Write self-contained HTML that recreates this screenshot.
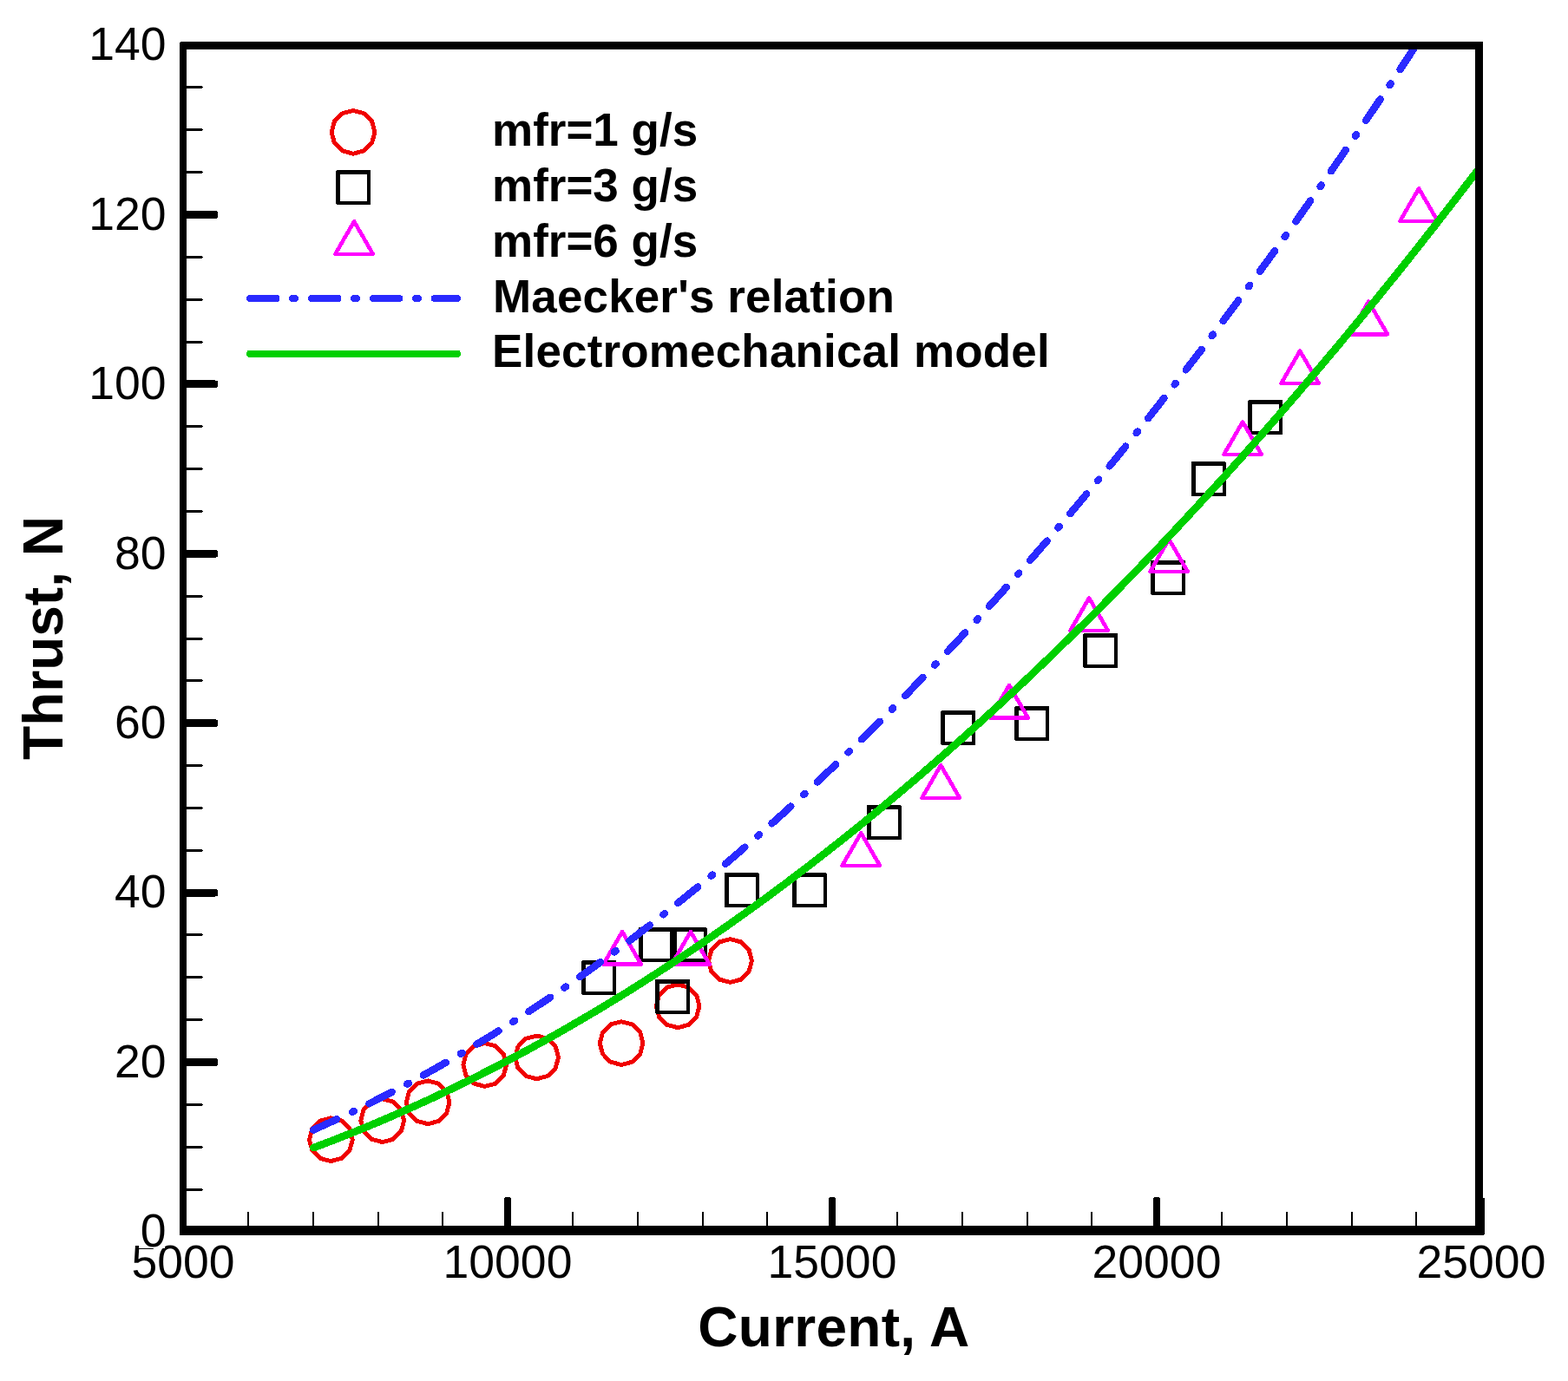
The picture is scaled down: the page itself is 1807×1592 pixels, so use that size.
<!DOCTYPE html>
<html lang="en"><head><meta charset="utf-8"><title>Thrust vs Current</title>
<style>html,body{margin:0;padding:0;background:#fff;}body{width:1807px;height:1592px;overflow:hidden;}svg{display:block;}text{font-family:"Liberation Sans",Arial,Helvetica,sans-serif;fill:#000;}.b{font-weight:bold;}</style>
</head><body>
<svg width="1807" height="1592" viewBox="0 0 1807 1592" shape-rendering="crispEdges">
<rect x="0" y="0" width="1807" height="1592" fill="#fff"/>
<g fill="none" stroke="#f00000" stroke-width="4.9" stroke-linejoin="round">
<polygon points="407.0,127.4 419.4,130.7 428.6,139.9 431.9,152.3 428.6,164.8 419.4,173.9 407.0,177.2 394.6,173.9 385.4,164.8 382.1,152.3 385.4,139.9 394.6,130.7"/>
<polygon points="381.4,1288.8 393.8,1292.1 403.0,1301.2 406.3,1313.7 403.0,1326.2 393.8,1335.3 381.4,1338.6 368.9,1335.3 359.8,1326.2 356.5,1313.7 359.8,1301.2 368.9,1292.1"/>
<polygon points="440.7,1266.8 453.1,1270.1 462.3,1279.2 465.6,1291.7 462.3,1304.2 453.1,1313.3 440.7,1316.6 428.2,1313.3 419.1,1304.2 415.8,1291.7 419.1,1279.2 428.2,1270.1"/>
<polygon points="493.1,1245.9 505.6,1249.2 514.7,1258.3 518.0,1270.8 514.7,1283.2 505.6,1292.4 493.1,1295.7 480.7,1292.4 471.5,1283.2 468.2,1270.8 471.5,1258.3 480.7,1249.2"/>
<polygon points="558.7,1202.6 571.2,1205.9 580.3,1215.0 583.6,1227.5 580.3,1240.0 571.2,1249.1 558.7,1252.4 546.2,1249.1 537.1,1240.0 533.8,1227.5 537.1,1215.0 546.2,1205.9"/>
<polygon points="618.6,1194.0 631.1,1197.3 640.2,1206.5 643.5,1218.9 640.2,1231.4 631.1,1240.5 618.6,1243.8 606.1,1240.5 597.0,1231.4 593.7,1218.9 597.0,1206.5 606.1,1197.3"/>
<polygon points="716.1,1177.7 728.6,1181.0 737.7,1190.1 741.0,1202.6 737.7,1215.0 728.6,1224.2 716.1,1227.5 703.6,1224.2 694.5,1215.0 691.2,1202.6 694.5,1190.1 703.6,1181.0"/>
<polygon points="781.1,1134.9 793.6,1138.2 802.7,1147.3 806.0,1159.8 802.7,1172.2 793.6,1181.4 781.1,1184.7 768.6,1181.4 759.5,1172.2 756.2,1159.8 759.5,1147.3 768.6,1138.2"/>
<polygon points="841.5,1082.6 854.0,1085.9 863.1,1095.0 866.4,1107.5 863.1,1120.0 854.0,1129.1 841.5,1132.4 829.0,1129.1 819.9,1120.0 816.6,1107.5 819.9,1095.0 829.0,1085.9"/>
</g>
<g fill="#000" fill-rule="evenodd" stroke="none">
<path d="M388.0,196.0 H426.0 L427.0,197.0 V236.0 H388.0 L387.0,235.0 V197.0 Z M392.0,201.0 H423.0 V232.0 H392.0 Z"/>
<path d="M671.0,1107.0 H709.0 L710.0,1108.0 V1147.0 H671.0 L670.0,1146.0 V1108.0 Z M675.0,1112.0 H706.0 V1143.0 H675.0 Z"/>
<path d="M736.9,1069.0 H774.9 L775.9,1070.0 V1109.0 H736.9 L735.9,1108.0 V1070.0 Z M740.9,1074.0 H771.9 V1105.0 H740.9 Z"/>
<path d="M775.8,1069.0 H813.8 L814.8,1070.0 V1109.0 H775.8 L774.8,1108.0 V1070.0 Z M779.8,1074.0 H810.8 V1105.0 H779.8 Z"/>
<path d="M756.1,1128.6 H794.1 L795.1,1129.6 V1168.6 H756.1 L755.1,1167.6 V1129.6 Z M760.1,1133.6 H791.1 V1164.6 H760.1 Z"/>
<path d="M835.6,1006.1 H873.6 L874.6,1007.1 V1046.1 H835.6 L834.6,1045.1 V1007.1 Z M839.6,1011.1 H870.6 V1042.1 H839.6 Z"/>
<path d="M914.0,1006.1 H952.0 L953.0,1007.1 V1046.1 H914.0 L913.0,1045.1 V1007.1 Z M918.0,1011.1 H949.0 V1042.1 H918.0 Z"/>
<path d="M999.5,928.0 H1037.5 L1038.5,929.0 V968.0 H999.5 L998.5,967.0 V929.0 Z M1003.5,933.0 H1034.5 V964.0 H1003.5 Z"/>
<path d="M1085.0,819.0 H1123.0 L1124.0,820.0 V859.0 H1085.0 L1084.0,858.0 V820.0 Z M1089.0,824.0 H1120.0 V855.0 H1089.0 Z"/>
<path d="M1170.0,814.0 H1208.0 L1209.0,815.0 V854.0 H1170.0 L1169.0,853.0 V815.0 Z M1174.0,819.0 H1205.0 V850.0 H1174.0 Z"/>
<path d="M1249.0,730.0 H1287.0 L1288.0,731.0 V770.0 H1249.0 L1248.0,769.0 V731.0 Z M1253.0,735.0 H1284.0 V766.0 H1253.0 Z"/>
<path d="M1327.4,645.5 H1365.4 L1366.4,646.5 V685.5 H1327.4 L1326.4,684.5 V646.5 Z M1331.4,650.5 H1362.4 V681.5 H1331.4 Z"/>
<path d="M1373.5,532.0 H1411.5 L1412.5,533.0 V572.0 H1373.5 L1372.5,571.0 V533.0 Z M1377.5,537.0 H1408.5 V568.0 H1377.5 Z"/>
<path d="M1439.1,461.0 H1477.1 L1478.1,462.0 V501.0 H1439.1 L1438.1,500.0 V462.0 Z M1443.1,466.0 H1474.1 V497.0 H1443.1 Z"/>
</g>
<g fill="none" stroke="#ff00ff" stroke-width="4.6" stroke-linejoin="round">
<polygon points="408.1,255.3 429.8,292.9 386.4,292.9"/>
<polygon points="717.1,1074.0 738.8,1111.6 695.4,1111.6"/>
<polygon points="795.9,1074.0 817.6,1111.6 774.2,1111.6"/>
<polygon points="992.3,960.3 1014.0,997.9 970.6,997.9"/>
<polygon points="1084.2,882.2 1105.9,919.8 1062.5,919.8"/>
<polygon points="1163.0,789.9 1184.7,827.5 1141.3,827.5"/>
<polygon points="1255.1,689.4 1276.8,727.0 1233.4,727.0"/>
<polygon points="1347.1,621.5 1368.8,659.1 1325.4,659.1"/>
<polygon points="1432.1,486.4 1453.8,524.0 1410.4,524.0"/>
<polygon points="1498.1,404.5 1519.8,442.1 1476.4,442.1"/>
<polygon points="1577.2,347.6 1598.9,385.2 1555.5,385.2"/>
<polygon points="1635.1,217.3 1656.8,254.9 1613.4,254.9"/>
</g>
<clipPath id="plot"><rect x="211" y="52.5" width="1493.5" height="1365"/></clipPath>
<g clip-path="url(#plot)" fill="none" stroke-linecap="round" stroke-linejoin="round">
<path d="M361.2,1302.6 L371.9,1297.7 L382.7,1292.8 L393.4,1287.8 L404.2,1282.7 L414.9,1277.5 L425.7,1272.2 L436.4,1266.7 L447.2,1261.2 L457.9,1255.6 L468.7,1249.9 L479.4,1244.1 L490.2,1238.2 L500.9,1232.2 L511.6,1226.1 L522.4,1219.9 L533.1,1213.6 L543.9,1207.2 L554.6,1200.7 L565.4,1194.2 L576.1,1187.5 L586.9,1180.7 L597.6,1173.8 L608.4,1166.8 L619.1,1159.7 L629.9,1152.6 L640.6,1145.3 L651.3,1137.9 L662.1,1130.4 L672.8,1122.9 L683.6,1115.2 L694.3,1107.4 L705.1,1099.6 L715.8,1091.6 L726.6,1083.6 L737.3,1075.4 L748.1,1067.1 L758.8,1058.8 L769.6,1050.3 L780.3,1041.8 L791.0,1033.1 L801.8,1024.4 L812.5,1015.5 L823.3,1006.6 L834.0,997.6 L844.8,988.4 L855.5,979.2 L866.3,969.9 L877.0,960.4 L887.8,950.9 L898.5,941.3 L909.3,931.5 L920.0,921.7 L930.7,911.8 L941.5,901.8 L952.2,891.6 L963.0,881.4 L973.7,871.1 L984.5,860.7 L995.2,850.2 L1006.0,839.6 L1016.7,828.9 L1027.5,818.1 L1038.2,807.1 L1049.0,796.1 L1059.7,785.0 L1070.5,773.8 L1081.2,762.5 L1091.9,751.2 L1102.7,739.7 L1113.4,728.1 L1124.2,716.4 L1134.9,704.6 L1145.7,692.7 L1156.4,680.7 L1167.2,668.6 L1177.9,656.5 L1188.7,644.2 L1199.4,631.8 L1210.2,619.3 L1220.9,606.7 L1231.6,594.1 L1242.4,581.3 L1253.1,568.4 L1263.9,555.5 L1274.6,542.4 L1285.4,529.2 L1296.1,516.0 L1306.9,502.6 L1317.6,489.2 L1328.4,475.6 L1339.1,462.0 L1349.9,448.2 L1360.6,434.4 L1371.3,420.4 L1382.1,406.4 L1392.8,392.2 L1403.6,378.0 L1414.3,363.6 L1425.1,349.2 L1435.8,334.7 L1446.6,320.0 L1457.3,305.3 L1468.1,290.5 L1478.8,275.5 L1489.6,260.5 L1500.3,245.4 L1511.0,230.2 L1521.8,214.8 L1532.5,199.4 L1543.3,183.9 L1554.0,168.3 L1564.8,152.6 L1575.5,136.8 L1586.3,120.9 L1597.0,104.8 L1607.8,88.7 L1618.5,72.5 L1629.3,56.2 L1640.0,39.8" stroke="#2a2aff" stroke-width="8.4" stroke-dasharray="29.5 19.8 2 19.6"/>
<path d="M361.4,1323.1 L372.7,1318.8 L384.1,1314.5 L395.4,1310.0 L406.8,1305.5 L418.1,1300.9 L429.5,1296.2 L440.8,1291.4 L452.2,1286.5 L463.5,1281.5 L474.9,1276.4 L486.2,1271.3 L497.6,1266.1 L508.9,1260.7 L520.3,1255.3 L531.6,1249.8 L543.0,1244.2 L554.3,1238.5 L565.7,1232.7 L577.0,1226.9 L588.4,1220.9 L599.7,1214.9 L611.1,1208.7 L622.4,1202.5 L633.8,1196.2 L645.1,1189.8 L656.5,1183.3 L667.8,1176.7 L679.2,1170.0 L690.5,1163.3 L701.9,1156.4 L713.2,1149.5 L724.6,1142.5 L735.9,1135.3 L747.3,1128.1 L758.6,1120.8 L770.0,1113.4 L781.3,1105.9 L792.7,1098.4 L804.0,1090.7 L815.4,1083.0 L826.7,1075.1 L838.1,1067.2 L849.4,1059.2 L860.8,1051.1 L872.1,1042.9 L883.5,1034.6 L894.8,1026.2 L906.2,1017.7 L917.5,1009.1 L928.9,1000.5 L940.2,991.8 L951.6,982.9 L962.9,974.0 L974.3,965.0 L985.6,955.9 L997.0,946.7 L1008.3,937.4 L1019.7,928.0 L1031.0,918.6 L1042.4,909.0 L1053.7,899.4 L1065.1,889.6 L1076.4,879.8 L1087.8,869.9 L1099.1,859.9 L1110.5,849.8 L1121.8,839.6 L1133.2,829.3 L1144.5,818.9 L1155.9,808.5 L1167.2,797.9 L1178.6,787.3 L1189.9,776.5 L1201.3,765.7 L1212.6,754.8 L1224.0,743.8 L1235.3,732.7 L1246.7,721.5 L1258.0,710.2 L1269.4,698.8 L1280.7,687.4 L1292.1,675.8 L1303.4,664.2 L1314.8,652.4 L1326.1,640.6 L1337.5,628.7 L1348.8,616.7 L1360.2,604.6 L1371.5,592.4 L1382.9,580.1 L1394.2,567.8 L1405.6,555.3 L1416.9,542.7 L1428.3,530.1 L1439.6,517.4 L1451.0,504.5 L1462.3,491.6 L1473.7,478.6 L1485.0,465.5 L1496.4,452.3 L1507.7,439.0 L1519.1,425.6 L1530.4,412.2 L1541.8,398.6 L1553.1,385.0 L1564.5,371.2 L1575.8,357.4 L1587.2,343.5 L1598.5,329.5 L1609.9,315.4 L1621.2,301.2 L1632.6,286.9 L1643.9,272.5 L1655.3,258.0 L1666.6,243.4 L1678.0,228.8 L1689.3,214.0 L1700.7,199.2 L1712.0,184.3" stroke="#00d000" stroke-width="8.7"/>
</g>
<g fill="none" stroke-width="8" stroke-linecap="round">
<path d="M288.1,344 L527,344" stroke="#2a2aff" stroke-dasharray="30.4 18.6 3 18.9"/>
<path d="M288,407.8 L527,407.8" stroke="#00d000"/>
</g>
<g fill="#000">
<rect x="207" y="48" width="8" height="1376" rx="2"/>
<rect x="207" y="48" width="1502" height="9" rx="2"/>
<rect x="1700" y="48" width="9" height="1376"/>
<rect x="207" y="1413" width="1504" height="11" rx="2"/>
<rect x="1703" y="1381" width="8" height="43" rx="2"/>
</g>
<g fill="#000" stroke="none">
<rect x="211" y="1220.0" width="40.3" height="9" rx="3.6"/>
<rect x="211" y="1024.6" width="40.3" height="9" rx="3.6"/>
<rect x="211" y="829.2" width="40.3" height="9" rx="3.6"/>
<rect x="211" y="633.8" width="40.3" height="9" rx="3.6"/>
<rect x="211" y="438.4" width="40.3" height="9" rx="3.6"/>
<rect x="211" y="243.0" width="40.3" height="9" rx="3.6"/>
<rect x="213" y="1370" width="20" height="3"/><rect x="233" y="1371" width="1" height="1"/>
<rect x="213" y="1321" width="20" height="3"/><rect x="233" y="1322" width="1" height="1"/>
<rect x="213" y="1272" width="20" height="3"/><rect x="233" y="1273" width="1" height="1"/>
<rect x="213" y="1174" width="20" height="3"/><rect x="233" y="1175" width="1" height="1"/>
<rect x="213" y="1125" width="20" height="3"/><rect x="233" y="1126" width="1" height="1"/>
<rect x="213" y="1076" width="20" height="3"/><rect x="233" y="1077" width="1" height="1"/>
<rect x="213" y="979" width="20" height="3"/><rect x="233" y="980" width="1" height="1"/>
<rect x="213" y="930" width="20" height="3"/><rect x="233" y="931" width="1" height="1"/>
<rect x="213" y="881" width="20" height="3"/><rect x="233" y="882" width="1" height="1"/>
<rect x="213" y="783" width="20" height="3"/><rect x="233" y="784" width="1" height="1"/>
<rect x="213" y="735" width="20" height="3"/><rect x="233" y="736" width="1" height="1"/>
<rect x="213" y="686" width="20" height="3"/><rect x="233" y="687" width="1" height="1"/>
<rect x="213" y="588" width="20" height="3"/><rect x="233" y="589" width="1" height="1"/>
<rect x="213" y="539" width="20" height="3"/><rect x="233" y="540" width="1" height="1"/>
<rect x="213" y="490" width="20" height="3"/><rect x="233" y="491" width="1" height="1"/>
<rect x="213" y="393" width="20" height="3"/><rect x="233" y="394" width="1" height="1"/>
<rect x="213" y="344" width="20" height="3"/><rect x="233" y="345" width="1" height="1"/>
<rect x="213" y="295" width="20" height="3"/><rect x="233" y="296" width="1" height="1"/>
<rect x="213" y="197" width="20" height="3"/><rect x="233" y="198" width="1" height="1"/>
<rect x="213" y="148" width="20" height="3"/><rect x="233" y="149" width="1" height="1"/>
<rect x="213" y="99" width="20" height="3"/><rect x="233" y="100" width="1" height="1"/>
<rect x="581.0" y="1380" width="8" height="36" rx="2.4"/>
<rect x="955.0" y="1380" width="8" height="36" rx="2.4"/>
<rect x="1329.0" y="1380" width="8" height="36" rx="2.4"/>
<rect x="285" y="1397" width="2" height="18"/>
<rect x="360" y="1397" width="2" height="18"/>
<rect x="435" y="1397" width="2" height="18"/>
<rect x="509" y="1397" width="2" height="18"/>
<rect x="659" y="1397" width="2" height="18"/>
<rect x="734" y="1397" width="2" height="18"/>
<rect x="809" y="1397" width="2" height="18"/>
<rect x="883" y="1397" width="2" height="18"/>
<rect x="1033" y="1397" width="2" height="18"/>
<rect x="1108" y="1397" width="2" height="18"/>
<rect x="1183" y="1397" width="2" height="18"/>
<rect x="1257" y="1397" width="2" height="18"/>
<rect x="1407" y="1397" width="2" height="18"/>
<rect x="1482" y="1397" width="2" height="18"/>
<rect x="1557" y="1397" width="2" height="18"/>
<rect x="1631" y="1397" width="2" height="18"/>
</g>
<g font-size="53.5" text-anchor="middle">
<text x="211.0" y="1473.2">5000</text>
<text x="585.0" y="1473.2">10000</text>
<text x="959.0" y="1473.2">15000</text>
<text x="1333.0" y="1473.2">20000</text>
<text x="1707.0" y="1473.2">25000</text>
</g>
<rect x="160" y="1398" width="30" height="41.2" fill="#fff"/>
<g font-size="53.5" text-anchor="end">
<text x="191.5" y="1437.2">0</text>
<text x="191.5" y="1241.8">20</text>
<text x="191.5" y="1046.4">40</text>
<text x="191.5" y="851.0">60</text>
<text x="191.5" y="655.6">80</text>
<text x="191.5" y="460.2">100</text>
<text x="191.5" y="264.8">120</text>
<text x="191.5" y="69.4">140</text>
</g>
<g class="b" font-size="53">
<text x="567" y="167.8" letter-spacing="0">mfr=1 g/s</text>
<text x="567" y="231.7" letter-spacing="0">mfr=3 g/s</text>
<text x="567" y="295.7" letter-spacing="0">mfr=6 g/s</text>
<text x="568" y="360.2" letter-spacing="0.14">Maecker's relation</text>
<text x="567" y="423.3" letter-spacing="0.16">Electromechanical model</text>
</g>
<text class="b" font-size="64" x="804.3" y="1551.7" letter-spacing="0.27">Current, A</text>
<text class="b" font-size="64" text-anchor="middle" transform="translate(72.1,735.5) rotate(-90)">Thrust, N</text>
</svg></body></html>
